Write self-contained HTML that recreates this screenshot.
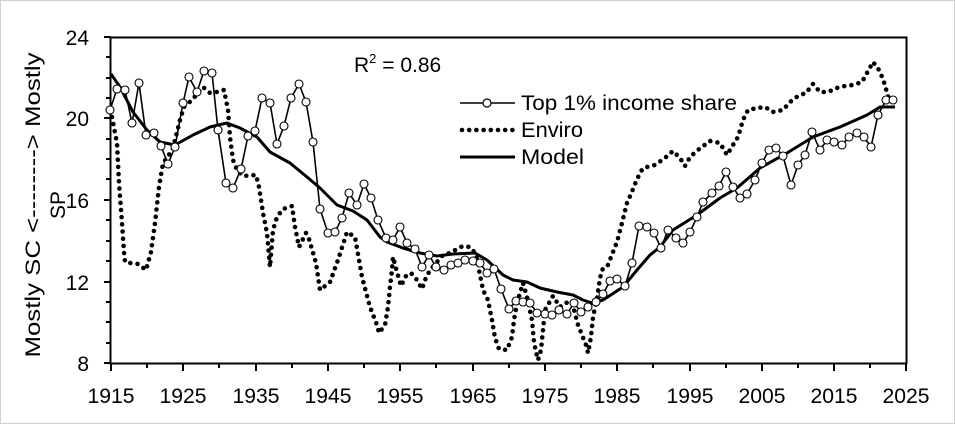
<!DOCTYPE html>
<html><head><meta charset="utf-8"><style>
html,body{margin:0;padding:0;background:#fff}
svg{display:block}
text{font-family:"Liberation Sans",sans-serif;fill:#000}
</style></head><body>
<svg width="955" height="424" viewBox="0 0 955 424" xmlns="http://www.w3.org/2000/svg">
<rect x="0.5" y="0.5" width="954" height="423" fill="#fff" stroke="#d0d0d0"/>
<rect x="110.5" y="37.5" width="796" height="326" fill="none" stroke="#000" stroke-width="2"/>
<g stroke="#000" stroke-width="2">
<path d="M104 37H111M104 118H111M104 200H111M104 282H111M104 363H111"/>
<path d="M106 57H111M106 78H111M106 98H111M106 139H111M106 159H111M106 179H111M106 220H111M106 241H111M106 261H111M106 302H111M106 322H111M106 343H111"/>
<path d="M111 363V371M183 363V371M256 363V371M328 363V371M400 363V371M473 363V371M545 363V371M617 363V371M690 363V371M762 363V371M834 363V371M906 363V371"/>
<path d="M147 363V368M219 363V368M292 363V368M364 363V368M436 363V368M509 363V368M581 363V368M653 363V368M726 363V368M798 363V368M870 363V368"/>
</g>
<g font-size="21" text-anchor="end">
<text x="89" y="45">24</text><text x="89" y="126">20</text><text x="89" y="208">16</text><text x="89" y="290">12</text><text x="89" y="371">8</text>
</g>
<g font-size="21" text-anchor="middle">
<text x="111" y="403" textLength="47" lengthAdjust="spacingAndGlyphs">1915</text><text x="183" y="403" textLength="47" lengthAdjust="spacingAndGlyphs">1925</text><text x="256" y="403" textLength="47" lengthAdjust="spacingAndGlyphs">1935</text><text x="328" y="403" textLength="47" lengthAdjust="spacingAndGlyphs">1945</text><text x="400" y="403" textLength="47" lengthAdjust="spacingAndGlyphs">1955</text><text x="473" y="403" textLength="47" lengthAdjust="spacingAndGlyphs">1965</text><text x="545" y="403" textLength="47" lengthAdjust="spacingAndGlyphs">1975</text><text x="617" y="403" textLength="47" lengthAdjust="spacingAndGlyphs">1985</text><text x="690" y="403" textLength="47" lengthAdjust="spacingAndGlyphs">1995</text><text x="762" y="403" textLength="47" lengthAdjust="spacingAndGlyphs">2005</text><text x="834" y="403" textLength="47" lengthAdjust="spacingAndGlyphs">2015</text><text x="906" y="403" textLength="47" lengthAdjust="spacingAndGlyphs">2025</text>
</g>
<text font-size="21" text-anchor="middle" transform="translate(40,205) rotate(-90)" textLength="305" lengthAdjust="spacingAndGlyphs">Mostly SC &lt;--------&gt; Mostly</text>
<text font-size="21" text-anchor="middle" transform="translate(65,205) rotate(-90)">SP</text>
<text x="354" y="72" font-size="21">R<tspan font-size="13" dy="-9">2</tspan><tspan dy="9"> = 0.86</tspan></text>

<polyline fill="none" stroke="#000" stroke-width="4.6" stroke-linecap="round" stroke-dasharray="0 7.2" points="112,117 117,143 119,183 122,223 124,252 125,262 130,263 138,264 146,270 151,252 155,223 159,187 163,163 167,158 173,148 180,120 184,107 192,100 203,87 210,93 217,92 224,90 228,110 230,137 233,160 237,170 243,176 256,175 259,187 263,213 267,233 270,267 273,230 277,217 283,209 292,206 295,227 299,247 306,233 309,239 316,263 320,290 330,282 338,260 347,232 355,237 362,277 370,307 377,325 379,333 385,325 388,307 390,287 392,270 393,257 397,272 401,286 406,276 411,273 417,280 422,289 425,280 430,270 437,262 443,255 450,253 457,249 463,246 470,247 476,254 479,270 483,290 488,300 492,320 495,338 499,349 507,350 512,337 514,320 517,303 523,283 527,297 532,320 534,342 536,352 538,360 541,350 543,330 545,310 553,296 560,307 565,303 572,302 578,325 582,335 586,345 588,353 591,337 593,317 597,298 600,278 603,268 608,265 613,252 617,242 622,223 627,203 631,194 635,184 639,175 643,168 655,165 665,158 673,151 680,158 685,166 690,157 698,150 710,141 720,143 727,155 733,145 738,137 743,120 748,110 757,108 765,107 773,112 783,110 790,102 798,96 806,93 813,84 820,92 828,92 837,88 845,86 853,85 862,82 867,73 873,62 879,70 883,79 886,89 889,100"/>

<polyline fill="none" stroke="#000" stroke-width="3" stroke-linejoin="round" points="111,74 120,87 133,112 147,130 160,142 175,145 193,135 210,127 227,123 240,128 257,137 270,152 290,163 307,177 320,188 337,205 353,211 367,220 380,237 387,242 403,248 420,253 437,256 453,254 475,253 487,260 503,275 513,280 527,282 540,288 557,292 573,295 583,300 592,303 603,300 623,287 637,270 650,255 660,247 673,230 697,215 720,198 737,188 760,168 787,153 813,137 840,127 867,115 880,107 895,107"/>

<polyline fill="none" stroke="#000" stroke-width="1.6" points="110,110 117,89 125,90 132,123 139,83 146,135 154,133 161,146 168,164 175,147 183,103 189,77 197,92 204,71 212,73 218,130 226,183 233,188 241,169 248,136 255,131 262,98 270,103 277,144 284,126 291,98 299,84 306,102 313,142 320,209 328,233 335,232 342,218 349,193 357,205 364,184 371,198 378,220 386,238 393,240 400,227 407,243 415,249 422,267 429,255 436,267 444,270 451,265 458,263 465,260 473,261 480,263 487,273 494,269 501,289 509,309 516,301 523,302 530,303 537,313 545,314 552,315 559,310 567,314 574,303 581,312 588,307 596,302 603,294 610,281 617,279 625,286 632,263 639,226 647,227 654,233 661,248 668,230 676,238 683,243 690,232 697,217 703,202 712,193 719,186 726,172 733,187 740,198 747,194 755,180 762,163 769,150 776,148 783,156 791,185 798,165 805,155 812,132 820,150 827,140 834,142 842,145 849,137 857,133 864,137 871,147 878,115 886,100 893,100"/>

<line x1="460" y1="103" x2="515" y2="103" stroke="#000" stroke-width="1.6"/>
<circle cx="487" cy="103" r="4" fill="#fff" stroke="#000" stroke-width="1.2"/>
<text x="521" y="110" font-size="21" textLength="216" lengthAdjust="spacingAndGlyphs">Top 1% income share</text>
<line x1="462" y1="130" x2="513" y2="130" stroke="#000" stroke-width="4.6" stroke-linecap="round" stroke-dasharray="0 7.2"/>
<text x="521" y="137" font-size="21" textLength="62" lengthAdjust="spacingAndGlyphs">Enviro</text>
<line x1="460" y1="157" x2="515" y2="157" stroke="#000" stroke-width="3"/>
<text x="521" y="164" font-size="21" textLength="63" lengthAdjust="spacingAndGlyphs">Model</text>

<g fill="#fff" stroke="#000" stroke-width="1.1">
<circle cx="110" cy="110" r="4"/><circle cx="117" cy="89" r="4"/><circle cx="125" cy="90" r="4"/><circle cx="132" cy="123" r="4"/><circle cx="139" cy="83" r="4"/><circle cx="146" cy="135" r="4"/><circle cx="154" cy="133" r="4"/><circle cx="161" cy="146" r="4"/><circle cx="168" cy="164" r="4"/><circle cx="175" cy="147" r="4"/><circle cx="183" cy="103" r="4"/><circle cx="189" cy="77" r="4"/><circle cx="197" cy="92" r="4"/><circle cx="204" cy="71" r="4"/><circle cx="212" cy="73" r="4"/><circle cx="218" cy="130" r="4"/><circle cx="226" cy="183" r="4"/><circle cx="233" cy="188" r="4"/><circle cx="241" cy="169" r="4"/><circle cx="248" cy="136" r="4"/><circle cx="255" cy="131" r="4"/><circle cx="262" cy="98" r="4"/><circle cx="270" cy="103" r="4"/><circle cx="277" cy="144" r="4"/><circle cx="284" cy="126" r="4"/><circle cx="291" cy="98" r="4"/><circle cx="299" cy="84" r="4"/><circle cx="306" cy="102" r="4"/><circle cx="313" cy="142" r="4"/><circle cx="320" cy="209" r="4"/><circle cx="328" cy="233" r="4"/><circle cx="335" cy="232" r="4"/><circle cx="342" cy="218" r="4"/><circle cx="349" cy="193" r="4"/><circle cx="357" cy="205" r="4"/><circle cx="364" cy="184" r="4"/><circle cx="371" cy="198" r="4"/><circle cx="378" cy="220" r="4"/><circle cx="386" cy="238" r="4"/><circle cx="393" cy="240" r="4"/><circle cx="400" cy="227" r="4"/><circle cx="407" cy="243" r="4"/><circle cx="415" cy="249" r="4"/><circle cx="422" cy="267" r="4"/><circle cx="429" cy="255" r="4"/><circle cx="436" cy="267" r="4"/><circle cx="444" cy="270" r="4"/><circle cx="451" cy="265" r="4"/><circle cx="458" cy="263" r="4"/><circle cx="465" cy="260" r="4"/><circle cx="473" cy="261" r="4"/><circle cx="480" cy="263" r="4"/><circle cx="487" cy="273" r="4"/><circle cx="494" cy="269" r="4"/><circle cx="501" cy="289" r="4"/><circle cx="509" cy="309" r="4"/><circle cx="516" cy="301" r="4"/><circle cx="523" cy="302" r="4"/><circle cx="530" cy="303" r="4"/><circle cx="537" cy="313" r="4"/><circle cx="545" cy="314" r="4"/><circle cx="552" cy="315" r="4"/><circle cx="559" cy="310" r="4"/><circle cx="567" cy="314" r="4"/><circle cx="574" cy="303" r="4"/><circle cx="581" cy="312" r="4"/><circle cx="588" cy="307" r="4"/><circle cx="596" cy="302" r="4"/><circle cx="603" cy="294" r="4"/><circle cx="610" cy="281" r="4"/><circle cx="617" cy="279" r="4"/><circle cx="625" cy="286" r="4"/><circle cx="632" cy="263" r="4"/><circle cx="639" cy="226" r="4"/><circle cx="647" cy="227" r="4"/><circle cx="654" cy="233" r="4"/><circle cx="661" cy="248" r="4"/><circle cx="668" cy="230" r="4"/><circle cx="676" cy="238" r="4"/><circle cx="683" cy="243" r="4"/><circle cx="690" cy="232" r="4"/><circle cx="697" cy="217" r="4"/><circle cx="703" cy="202" r="4"/><circle cx="712" cy="193" r="4"/><circle cx="719" cy="186" r="4"/><circle cx="726" cy="172" r="4"/><circle cx="733" cy="187" r="4"/><circle cx="740" cy="198" r="4"/><circle cx="747" cy="194" r="4"/><circle cx="755" cy="180" r="4"/><circle cx="762" cy="163" r="4"/><circle cx="769" cy="150" r="4"/><circle cx="776" cy="148" r="4"/><circle cx="783" cy="156" r="4"/><circle cx="791" cy="185" r="4"/><circle cx="798" cy="165" r="4"/><circle cx="805" cy="155" r="4"/><circle cx="812" cy="132" r="4"/><circle cx="820" cy="150" r="4"/><circle cx="827" cy="140" r="4"/><circle cx="834" cy="142" r="4"/><circle cx="842" cy="145" r="4"/><circle cx="849" cy="137" r="4"/><circle cx="857" cy="133" r="4"/><circle cx="864" cy="137" r="4"/><circle cx="871" cy="147" r="4"/><circle cx="878" cy="115" r="4"/><circle cx="886" cy="100" r="4"/><circle cx="893" cy="100" r="4"/>
</g>
</svg>
</body></html>
